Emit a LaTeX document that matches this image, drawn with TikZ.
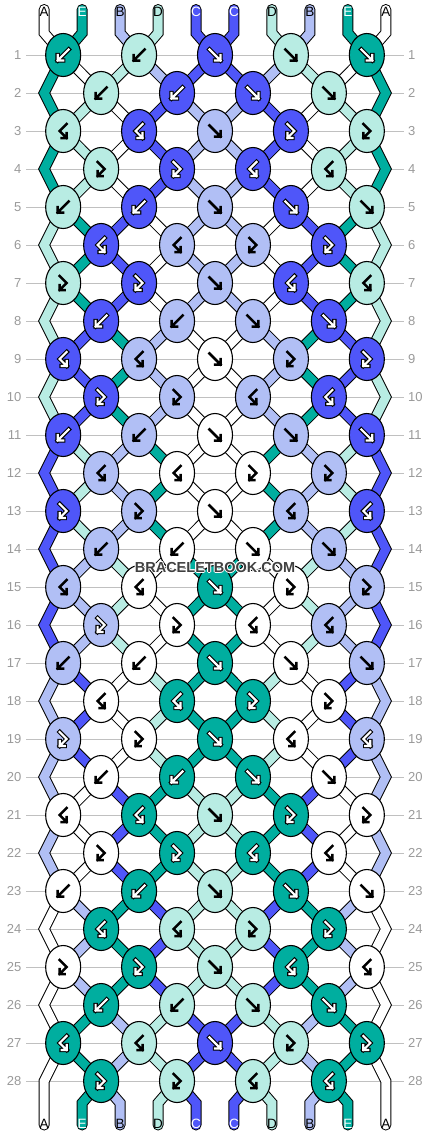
\documentclass[tikz,border=0pt]{standalone}
\usepackage{fontspec}
\setmainfont{Liberation Sans}
\definecolor{sA}{HTML}{FFFFFF}
\definecolor{sB}{HTML}{B1BFF5}
\definecolor{sC}{HTML}{4F56F9}
\definecolor{sD}{HTML}{B8ECE3}
\definecolor{sE}{HTML}{00AE9F}
\definecolor{gridc}{HTML}{C0C0C0}
\definecolor{labc}{HTML}{9A9A9A}
\definecolor{wmark}{HTML}{404040}

\newcommand{\nodex}[2]{%
  \pgfmathsetmacro{\nx}{215+(#2-5.5)*37.96+18.98*(1-2*mod(#1+#2,2))}%
  \ifodd#1\relax\else
    \ifnum#2=1 \pgfmathsetmacro{\nx}{44.18}\fi
    \ifnum#2=10 \pgfmathsetmacro{\nx}{385.82}\fi
  \fi}
\newcommand{\band}[2]{\draw[bandout] #2; \draw[bandin,#1] #2;}
\newcommand{\edgeband}{%
  \nodex{\r}{\p}%
  \pgfmathsetmacro{\yc}{55+(\r+1)*38}%
  \ifnum\r=27
    \band{color=s\c}{(\nx,\ya) -- (\xx,\yb) -- (\xx,1125)}%
  \else
    \band{color=s\c}{(\nx,\ya) -- (\xx,\yb) -- (\nx,\yc)}%
  \fi}
\newcommand{\knoticon}[4]{%
  \if#4w
    \pic[arrout] at (#1,#2) {icon#3};
    \pic[arrwhite] at (#1,#2) {icon#3};
  \else
    \pic[arrblack] at (#1,#2) {icon#3};
  \fi}

\tikzset{
  bandout/.style={draw=black,line width=11pt,line cap=round,line join=miter},
  bandin/.style={line width=9pt,line cap=round,line join=miter},
  knot/.style={draw=black,line width=1.1pt},
  gridline/.style={draw=gridc,line width=1pt},
  rowlab/.style={text=labc,font=\fontsize{13}{13}\selectfont,inner sep=0pt},
  toplab/.style={font=\fontsize{13.5}{13.5}\selectfont,inner sep=0pt},
  wm/.style={font=\fontsize{14.5}{14.5}\selectfont\bfseries,inner sep=0pt},
  arrout/.style={line width=4.4pt,black,line cap=rect,line join=miter},
  arrwhite/.style={line width=2.2pt,white,line cap=rect,line join=miter},
  arrblack/.style={line width=2.5pt,black,line cap=rect,line join=miter},
  iconR/.pic={\draw (-5.5,-5.5) -- (5.5,5.5) (0,5.5) -- (5.5,5.5) -- (5.5,0);},
  iconL/.pic={\draw (5.5,-5.5) -- (-5.5,5.5) (0,5.5) -- (-5.5,5.5) -- (-5.5,0);},
  iconP/.pic={\draw (-3.5,-7) -- (3.5,0) -- (-3.5,7) (1.5,7) -- (-3.5,7) -- (-3.5,2);},
  iconQ/.pic={\draw (3.5,-7) -- (-3.5,0) -- (3.5,7) (-1.5,7) -- (3.5,7) -- (3.5,2);}
}

\begin{document}
\begin{tikzpicture}[x=1pt,y=-1pt]
\useasboundingbox (0,0) rectangle (430,1136);
\fill[white] (0,0) rectangle (430,1136);

% row guides and labels
\foreach \r in {1,...,28} {
  \pgfmathsetmacro{\yy}{55+(\r-1)*38}
  \draw[gridline] (26,\yy) -- (404,\yy);
  \node[rowlab,anchor=east] (ll\r) at (21.5,\yy) {\r};
  \node[rowlab,anchor=west] (rl\r) at (408,\yy) {\r};
}

% top strands
\foreach \c [count=\p] in {A,E,B,D,C,C,D,B,E,A} {
  \pgfmathsetmacro{\xx}{215+(\p-5.5)*37.96}
  \nodex{1}{\p}
  \band{color=s\c}{(\xx,9.5) -- (\xx,33) -- (\nx,55)}
}
% bottom strands (inner)
\foreach \c [count=\p] in {A,E,B,D,C,C,D,B,E,A} {
  \ifnum\p>1 \ifnum\p<10
    \pgfmathsetmacro{\xx}{215+(\p-5.5)*37.96}
    \nodex{28}{\p}
    \band{color=s\c}{(\nx,1081) -- (\xx,1103) -- (\xx,1125)}
  \fi\fi
}

% strands between rows
\foreach \r/\s in {
 1/{E,A,D,B,C,C,B,D,A,E},
 2/{E,D,A,C,B,B,C,A,D,E}, 3/{E,D,A,C,B,B,C,A,D,E}, 4/{E,D,A,C,B,B,C,A,D,E},
 5/{D,E,C,A,B,B,A,C,E,D}, 6/{D,E,C,A,B,B,A,C,E,D}, 7/{D,E,C,A,B,B,A,C,E,D},
 8/{D,C,E,B,A,A,B,E,C,D}, 9/{D,C,E,B,A,A,B,E,C,D}, 10/{D,C,E,B,A,A,B,E,C,D},
 11/{C,D,B,E,A,A,E,B,D,C}, 12/{C,D,B,E,A,A,E,B,D,C}, 13/{C,D,B,E,A,A,E,B,D,C},
 14/{C,B,D,A,E,E,A,D,B,C}, 15/{C,B,D,A,E,E,A,D,B,C}, 16/{C,B,D,A,E,E,A,D,B,C},
 17/{B,C,A,D,E,E,D,A,C,B}, 18/{B,C,A,D,E,E,D,A,C,B}, 19/{B,C,A,D,E,E,D,A,C,B},
 20/{B,A,C,E,D,D,E,C,A,B}, 21/{B,A,C,E,D,D,E,C,A,B}, 22/{B,A,C,E,D,D,E,C,A,B},
 23/{A,B,E,C,D,D,C,E,B,A}, 24/{A,B,E,C,D,D,C,E,B,A}, 25/{A,B,E,C,D,D,C,E,B,A},
 26/{A,E,B,D,C,C,D,B,E,A}, 27/{A,E,B,D,C,C,D,B,E,A}} {
  \pgfmathtruncatemacro{\rn}{\r+1}
  \pgfmathsetmacro{\ya}{55+(\r-1)*38}
  \pgfmathsetmacro{\yb}{55+\r*38}
  \foreach \c [count=\p] in \s {
    \pgfmathsetmacro{\xx}{215+(\p-5.5)*37.96}
    \ifnum\p>1 \ifnum\p<10
      \nodex{\r}{\p}\let\xa\nx
      \nodex{\rn}{\p}\let\xb\nx
      \band{color=s\c}{(\xa,\ya) -- (\xb,\yb)}
    \fi\fi
    \ifodd\r
      \ifnum\p=1 \edgeband\fi
      \ifnum\p=10 \edgeband\fi
    \fi
  }
}

% knots
\foreach \r/\ks in {
 1/{L/E/w,L/D/k,R/C/w,R/D/k,R/E/w},
 2/{L/D/k,L/C/w,R/C/w,R/D/k},
 3/{Q/D/k,Q/C/w,R/B/k,P/C/w,P/D/k},
 4/{P/D/k,P/C/w,Q/C/w,Q/D/k},
 5/{L/D/k,L/C/w,R/B/k,R/C/w,R/D/k},
 6/{Q/C/w,Q/B/k,P/B/k,P/C/w},
 7/{P/D/k,P/C/w,R/B/k,Q/C/w,Q/D/k},
 8/{L/C/w,L/B/k,R/B/k,R/C/w},
 9/{Q/C/w,Q/B/k,R/A/k,P/B/k,P/C/w},
 10/{P/C/w,P/B/k,Q/B/k,Q/C/w},
 11/{L/C/w,L/B/k,R/A/k,R/B/k,R/C/w},
 12/{Q/B/k,Q/A/k,P/A/k,P/B/k},
 13/{P/C/w,P/B/k,R/A/k,Q/B/k,Q/C/w},
 14/{L/B/k,L/A/k,R/A/k,R/B/k},
 15/{Q/B/k,Q/A/k,R/E/w,P/A/k,P/B/k},
 16/{P/B/w,P/A/k,Q/A/k,Q/B/k},
 17/{L/B/k,L/A/k,R/E/w,R/A/k,R/B/k},
 18/{Q/A/k,Q/E/w,P/E/w,P/A/k},
 19/{P/B/w,P/A/k,R/E/w,Q/A/k,Q/B/w},
 20/{L/A/k,L/E/w,R/E/w,R/A/k},
 21/{Q/A/k,Q/E/w,R/D/k,P/E/w,P/A/k},
 22/{P/A/k,P/E/w,Q/E/w,Q/A/k},
 23/{L/A/k,L/E/w,R/D/k,R/E/w,R/A/k},
 24/{Q/E/w,Q/D/k,P/D/k,P/E/w},
 25/{P/A/k,P/E/w,R/D/k,Q/E/w,Q/A/k},
 26/{L/E/w,L/D/k,R/D/k,R/E/w},
 27/{Q/E/w,Q/D/k,R/C/w,P/D/k,P/E/w},
 28/{P/E/w,P/D/k,Q/D/k,Q/E/w}} {
  \pgfmathsetmacro{\yy}{55+(\r-1)*38}
  \foreach \t/\c/\w [count=\k] in \ks {
    \ifodd\r
      \pgfmathsetmacro{\xx}{215+(2*\k-6)*37.96}
    \else
      \pgfmathsetmacro{\xx}{215+(2*\k-5)*37.96}
    \fi
    \draw[knot,fill=s\c] (\xx,\yy) ellipse [x radius=17.5, y radius=21.5];
    \knoticon{\xx}{\yy}{\t}{\w}
  }
}

% strand letters
\foreach \c/\tc [count=\p] in {A/black,E/white,B/black,D/black,C/white,C/white,D/black,B/black,E/white,A/black} {
  \pgfmathsetmacro{\xx}{215+(\p-5.5)*37.96}
  \node[toplab,text=\tc] (t\p) at (\xx,12) {\c};
  \node[toplab,text=\tc] (b\p) at (\xx,1124) {\c};
}

% watermark
\foreach \dx/\dy [count=\i] in {-1/0,1/0,0/-1,0/1,-0.7/-0.7,0.7/0.7,-0.7/0.7,0.7/-0.7}
  \node[wm,text=white] (wh\i) at ({215+\dx},{567+\dy}) {BRACELETBOOK.COM};
\node[wm,text=wmark] (wm) at (215,567) {BRACELETBOOK.COM};
\end{tikzpicture}
\end{document}
